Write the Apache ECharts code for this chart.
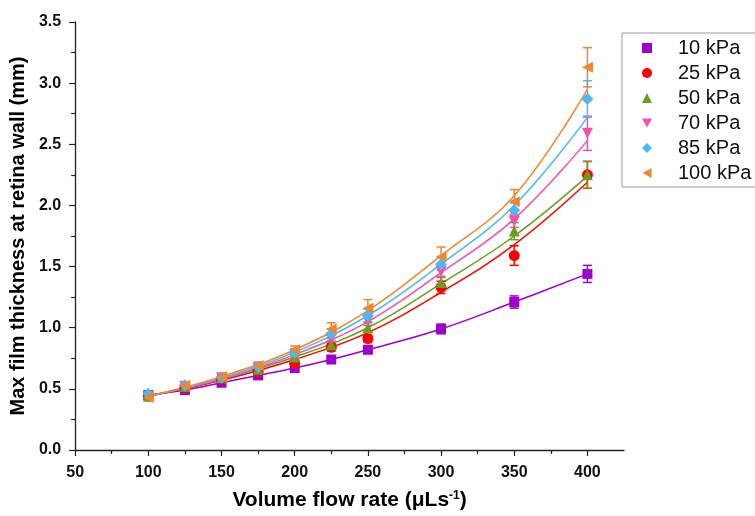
<!DOCTYPE html>
<html>
<head>
<meta charset="utf-8">
<script src="https://cdn.jsdelivr.net/npm/echarts@6/dist/echarts.min.js"></script>
<style>
  html, body { margin: 0; padding: 0; background: #fff; }
  #chart { width: 755px; height: 516px; }
</style>
</head>
<body>
<div id="chart"></div>
<script>
// flow rates (uL/s)
var flow = [100, 125, 150, 175, 200, 225, 250, 300, 350, 400];

// measured film thickness (mm)
var kpa10  = [0.45, 0.49, 0.55, 0.61, 0.67, 0.74, 0.82, 0.99, 1.21, 1.44];
var kpa25  = [0.44, 0.51, 0.58, 0.64, 0.71, 0.84, 0.91, 1.33, 1.59, 2.25];
var kpa50  = [0.44, 0.52, 0.59, 0.66, 0.76, 0.86, 1.00, 1.37, 1.79, 2.25];
var kpa70  = [0.44, 0.52, 0.59, 0.67, 0.78, 0.91, 1.06, 1.46, 1.87, 2.59];
var kpa85  = [0.46, 0.53, 0.59, 0.68, 0.80, 0.95, 1.10, 1.52, 1.96, 2.87];
var kpa100 = [0.43, 0.53, 0.60, 0.69, 0.82, 0.99, 1.16, 1.58, 2.03, 3.13];

// error bar half heights
var err10  = [0.01, 0.01, 0.01, 0.02, 0.02, 0.02, 0.03, 0.04, 0.05, 0.07];
var err25  = [0.01, 0.01, 0.01, 0.02, 0.02, 0.03, 0.03, 0.05, 0.08, 0.11];
var err50  = [0.01, 0.01, 0.02, 0.02, 0.02, 0.03, 0.04, 0.05, 0.07, 0.11];
var err70  = [0.01, 0.01, 0.02, 0.02, 0.03, 0.03, 0.04, 0.05, 0.05, 0.14];
var err85  = [0.01, 0.01, 0.02, 0.02, 0.03, 0.04, 0.05, 0.05, 0.06, 0.15];
var err100 = [0.01, 0.02, 0.02, 0.03, 0.03, 0.05, 0.07, 0.08, 0.10, 0.16];

// fitted curves
var fitFlow = [100, 150, 200, 250, 300, 350, 400];
var fit25  = [0.44, 0.57, 0.74, 0.96, 1.29, 1.68, 2.19];
var fit50  = [0.44, 0.58, 0.76, 1.00, 1.36, 1.75, 2.24];
var fit70  = [0.44, 0.58, 0.78, 1.05, 1.45, 1.89, 2.53];
var fit85  = [0.44, 0.59, 0.80, 1.10, 1.52, 2.00, 2.72];
var fit100 = [0.44, 0.60, 0.82, 1.14, 1.59, 2.08, 2.95];

var xMajor = [50, 100, 150, 200, 250, 300, 350, 400];
var xMinor = [75, 125, 175, 225, 275, 325, 375];

var names = ['10 kPa', '25 kPa', '50 kPa', '70 kPa', '85 kPa', '100 kPa'];
var colors = ['#9D00CC', '#FF0000', '#6B9E1F', '#F74FAE', '#4DB8F2', '#F0862E'];
var symbols = ['rect', 'circle', 'triangle', 'path://M0,0 L10,0 L5,9 Z', 'diamond', 'path://M9,0 L9,10 L0,5 Z'];
var sizes = [10, 11, 11, 11, 12, 11];
var values = [kpa10, kpa25, kpa50, kpa70, kpa85, kpa100];
var errors = [err10, err25, err50, err70, err85, err100];
var fits = [null, fit25, fit50, fit70, fit85, fit100];

var font = 'Liberation Sans, Arial';

function pairs(xs, ys){
    return xs.map(function(x, i){ return [x, ys[i]]; });
}

var series = [];

// fitted lines first
for (var i = 0; i < names.length; i++) {
    var lineData = fits[i] ? pairs(fitFlow, fits[i]) : pairs(flow, values[i]);
    series.push({
        name: 'fit ' + names[i],
        type: 'line',
        data: lineData,
        smooth: 0.4,
        symbol: 'none',
        silent: true,
        lineStyle: { color: colors[i], width: 1.5 },
        z: 2
    });
}

// error bars
for (var i = 0; i < names.length; i++) {
    (function(c){
        series.push({
            name: 'err ' + names[i],
            type: 'custom',
            silent: true,
            z: 3,
            data: flow.map(function(x, k){
                return [x, values[i][k] - errors[i][k], values[i][k] + errors[i][k]];
            }),
            renderItem: function(params, api){
                var lo = api.coord([api.value(0), api.value(1)]);
                var hi = api.coord([api.value(0), api.value(2)]);
                var w = 4.5;
                var st = { stroke: c, lineWidth: 1.5 };
                return {
                    type: 'group',
                    children: [
                        { type: 'line', shape: { x1: lo[0], y1: lo[1], x2: hi[0], y2: hi[1] }, style: st },
                        { type: 'line', shape: { x1: lo[0] - w, y1: lo[1], x2: lo[0] + w, y2: lo[1] }, style: st },
                        { type: 'line', shape: { x1: hi[0] - w, y1: hi[1], x2: hi[0] + w, y2: hi[1] }, style: st }
                    ]
                };
            }
        });
    })(colors[i]);
}

// markers
for (var i = 0; i < names.length; i++) {
    series.push({
        name: names[i],
        type: 'scatter',
        data: pairs(flow, values[i]),
        symbol: symbols[i],
        symbolSize: sizes[i],
        itemStyle: { color: colors[i], opacity: 1 },
        z: 4
    });
}

var option = {
    animation: false,
    backgroundColor: '#fff',
    grid: { left: 74, right: 131, top: 22, bottom: 66 },
    legend: {
        orient: 'vertical',
        left: 622,
        top: 33,
        padding: [5, 8, 4, 20],
        itemWidth: 10,
        itemHeight: 10,
        itemGap: 5,
        borderColor: '#999',
        borderWidth: 1,
        borderRadius: 0,
        data: names.map(function(n, i){ return { name: n, icon: symbols[i] }; }),
        formatter: '{g|}{name}',
        textStyle: {
            fontFamily: font,
            fontSize: 20,
            color: '#111',
            rich: { g: { width: 21 } }
        }
    },
    xAxis: [{
        type: 'value',
        min: 50,
        max: 425,
        interval: 50,
        name: '{a|Volume flow rate (μLs}{s|-1}{a|)}',
        nameLocation: 'middle',
        nameGap: 40,
        nameTextStyle: {
            rich: {
                a: { fontFamily: font, fontWeight: 'bold', fontSize: 21, color: '#000', verticalAlign: 'bottom' },
                s: { fontFamily: font, fontWeight: 'bold', fontSize: 12, color: '#000', verticalAlign: 'top', padding: [0, 0, 9, 0] }
            }
        },
        axisLine: { onZero: false, lineStyle: { color: '#222', width: 1.3 } },
        axisTick: { customValues: xMajor, length: 6, lineStyle: { color: '#222', width: 1.2 } },
        axisLabel: {
            customValues: xMajor,
            fontFamily: font,
            fontWeight: 'bold',
            fontSize: 16,
            color: '#111',
            margin: 15
        },
        splitLine: { show: false }
    }, {
        type: 'value',
        min: 50,
        max: 425,
        position: 'bottom',
        axisLine: { show: false },
        axisTick: { customValues: xMinor, length: 4, lineStyle: { color: '#222', width: 1.2 } },
        axisLabel: { show: false },
        splitLine: { show: false }
    }],
    yAxis: {
        type: 'value',
        min: 0,
        max: 3.5,
        interval: 0.5,
        name: 'Max film thickness at retina wall (mm)',
        nameLocation: 'middle',
        nameGap: 43,
        nameTextStyle: {
            fontFamily: font,
            fontWeight: 'bold',
            fontSize: 20,
            color: '#000'
        },
        axisLine: { show: true, lineStyle: { color: '#222', width: 1.3 } },
        axisTick: { show: true, length: 6, lineStyle: { color: '#222', width: 1.2 } },
        minorTick: { show: true, splitNumber: 2, length: 4, lineStyle: { color: '#222', width: 1.2 } },
        axisLabel: {
            fontFamily: font,
            fontWeight: 'bold',
            fontSize: 16,
            color: '#111',
            margin: 14,
            formatter: function(v){ return v.toFixed(1); }
        },
        splitLine: { show: false }
    },
    series: series
};

var chart = echarts.init(document.getElementById('chart'));
chart.setOption(option);
</script>
</body>
</html>
